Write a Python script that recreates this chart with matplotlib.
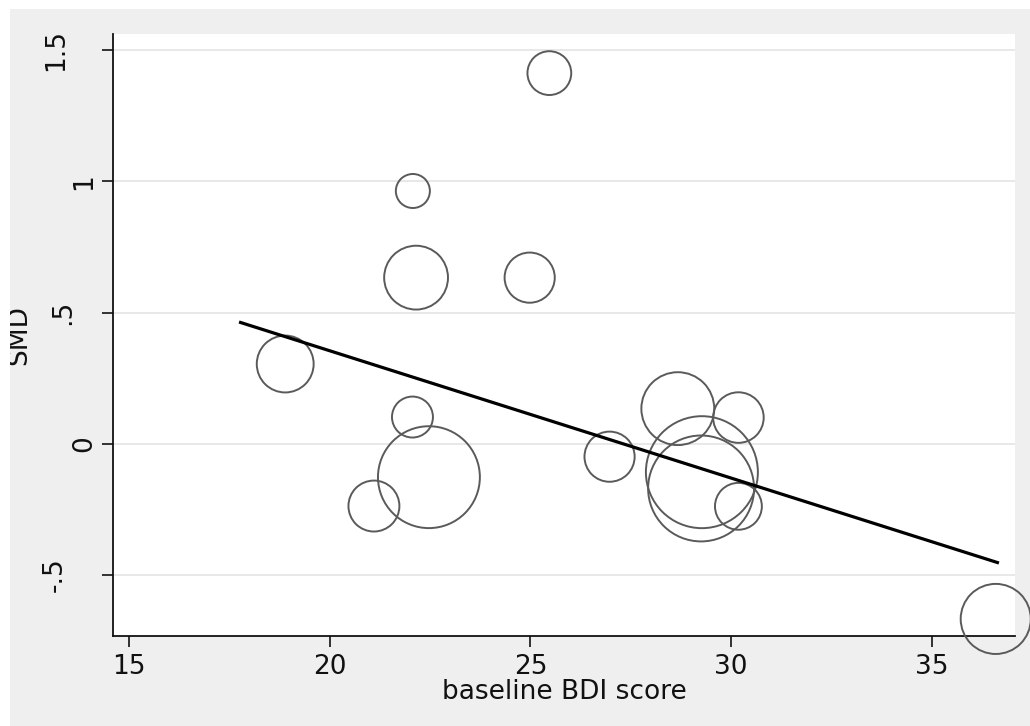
import matplotlib
matplotlib.use("Agg")
import numpy as np
import matplotlib.pyplot as plt
from matplotlib.patches import Rectangle
from matplotlib.transforms import ScaledTranslation

# study-level data: baseline BDI, effect size (SMD), study weight
bdi = [25.47, 22.07, 22.15, 24.98, 18.89, 22.06, 22.47, 21.10,
       26.97, 28.67, 30.18, 29.27, 29.25, 30.18, 36.59]
smd = [1.412, 0.963, 0.633, 0.633, 0.304, 0.102, -0.127, -0.237,
       -0.049, 0.134, 0.100, -0.108, -0.170, -0.238, -0.667]
weight = [4.8, 2.9, 10.2, 6.3, 8.1, 4.2, 26.0, 6.5,
          6.3, 13.3, 6.4, 31.4, 28.1, 5.5, 12.3]

# fitted meta-regression line
fit_x = [17.74, 36.67]
fit_y = [0.464, -0.454]

x_ticks = [15, 20, 25, 30, 35]
y_ticks = [1.5, 1, 0.5, 0, -0.5]
y_tick_labels = ["1.5", "1", ".5", "0", "-.5"]

W, H = 1030, 726
FS = 19
fig = plt.figure(figsize=(W / 100, H / 100), dpi=100, facecolor="white")
plt.rcParams["font.family"] = ["DejaVu Sans"]

# light grey graph region
fig.add_artist(Rectangle((10 / W, 0), 1 - 10 / W, (H - 9) / H,
                         transform=fig.transFigure, facecolor="#EFEFEF",
                         edgecolor="none", zorder=-1))

ax = fig.add_axes([113 / W, 90 / H, 902 / W, 602 / H])
ax.set_facecolor("white")

ax.scatter(bdi, smd, s=np.array(weight) * 207, facecolors="none",
           edgecolors="#5A5A5A", linewidths=1.4, clip_on=False, zorder=3)
ax.plot(fit_x, fit_y, color="black", lw=2.3, solid_capstyle="butt", zorder=4)

ax.set_xlim(14.60, 37.07)
ax.set_ylim(-0.732, 1.561)
ax.set_xticks(x_ticks)
ax.set_xticklabels([str(t) for t in x_ticks])
ax.set_yticks(y_ticks)

ax.yaxis.grid(True, color="#E6E6E6", lw=1.3)
ax.set_axisbelow(True)
for side in ["top", "right"]:
    ax.spines[side].set_visible(False)
for side in ["left", "bottom"]:
    ax.spines[side].set_color("#111111")
    ax.spines[side].set_linewidth(1.3)

ax.tick_params(axis="both", length=8, width=1.2, color="#111111",
               labelsize=FS, labelcolor="#111111")
ax.tick_params(axis="x", pad=5)
ax.tick_params(axis="y", labelleft=False)

# rotated y tick labels, each set off from the axis
gap_px = {"1.5": 50, "1": 22, ".5": 43, "0": 22, "-.5": 51}
for v, lab in zip(y_ticks, y_tick_labels):
    off = ScaledTranslation(-gap_px[lab] / 100, 0, fig.dpi_scale_trans)
    ax.text(0, v, lab, transform=ax.get_yaxis_transform() + off,
            rotation=90, rotation_mode="anchor", ha="center", va="baseline",
            fontsize=FS, color="#111111")

ax.set_xlabel("baseline BDI score", fontsize=FS, color="#111111")
ax.xaxis.label.set_va("baseline")
ax.xaxis.set_label_coords(0.5, (636 - 699) / 602)

fig.text(26 / W, (H - 335) / H, "SMD", rotation=90, rotation_mode="anchor",
         ha="center", va="baseline", fontsize=FS, color="#111111", zorder=5)
# white margin along the left and top edges
fig.add_artist(Rectangle((0, 0), 10 / W, 1, transform=fig.transFigure,
                         facecolor="white", edgecolor="none", zorder=10))
fig.add_artist(Rectangle((0, (H - 9) / H), 1, 9 / H, transform=fig.transFigure,
                         facecolor="white", edgecolor="none", zorder=10))

fig.savefig("out.png", dpi=100, facecolor="white")
